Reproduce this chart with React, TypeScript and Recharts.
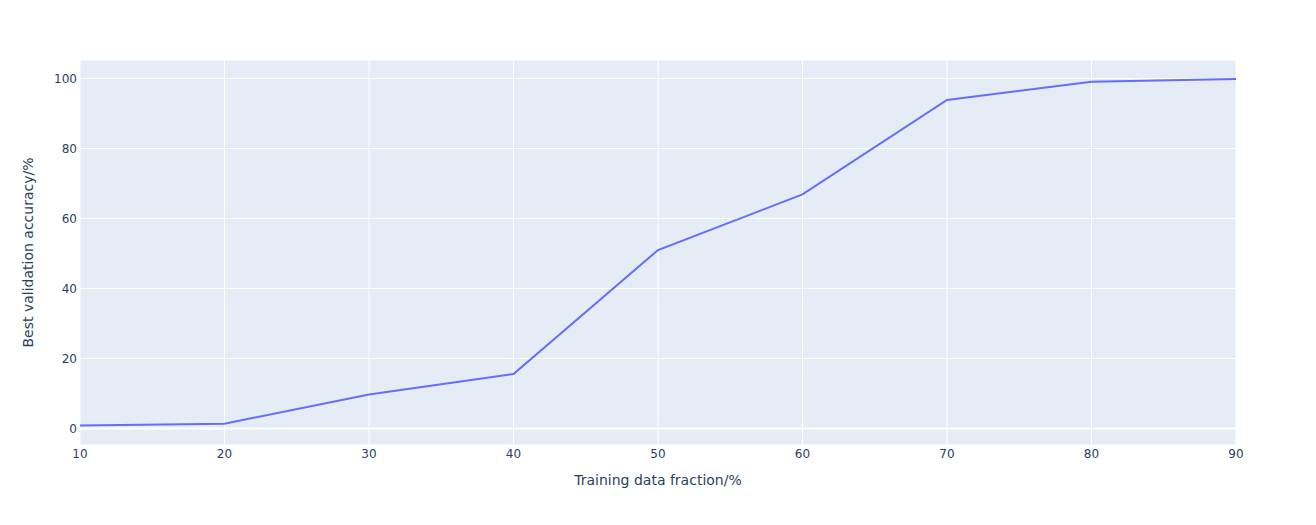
import { CartesianGrid, Line, LineChart, ReferenceLine, XAxis, YAxis } from "recharts";

const fractions = [10, 20, 30, 40, 50, 60, 70, 80, 90];
const accuracy = [0.9, 1.4, 9.7, 15.6, 51.0, 66.9, 93.9, 99.1, 99.9];
const xTicks = [10, 20, 30, 40, 50, 60, 70, 80, 90];
const yTicks = [0, 20, 40, 60, 80, 100];

const data = fractions.map((f, i) => ({ f, acc: accuracy[i] }));

const font = '"DejaVu Sans", verdana, arial, sans-serif';
const ink = "#2a3f5f";

export default function App() {
  return (
    <div style={{ position: "absolute", left: 0, top: 0, background: "#fff" }}>
      <LineChart
        width={1316}
        height={525}
        data={data}
        margin={{ top: 60, right: 80, bottom: 0, left: 0 }}
      >
        <CartesianGrid fill="#E5ECF6" stroke="#fff" strokeWidth={1} fillOpacity={1} />
        <XAxis
          dataKey="f"
          type="number"
          domain={[10, 90]}
          ticks={xTicks}
          height={80}
          axisLine={false}
          tickLine={false}
          tickSize={0}
          tickMargin={4}
          tick={{ fill: ink, fontSize: 12, fontFamily: font }}
          label={{
            content: ({ viewBox }: any) => (
              <text
                x={viewBox.x + viewBox.width / 2}
                y={viewBox.y + 40}
                textAnchor="middle"
                fill={ink}
                fontSize={14}
                fontFamily={font}
              >
                Training data fraction/%
              </text>
            ),
          }}
        />
        <YAxis
          type="number"
          domain={[-4.7, 105.3]}
          ticks={yTicks}
          width={80}
          axisLine={false}
          tickLine={false}
          tickSize={0}
          tickMargin={3}
          tick={{ fill: ink, fontSize: 12, fontFamily: font }}
          label={{
            content: ({ viewBox }: any) => {
              const cx = viewBox.x + 28;
              const cy = viewBox.y + viewBox.height / 2;
              return (
                <text
                  x={cx}
                  y={cy}
                  transform={`rotate(-90 ${cx} ${cy})`}
                  textAnchor="middle"
                  dominantBaseline="central"
                  fill={ink}
                  fontSize={14}
                  fontFamily={font}
                >
                  Best validation accuracy/%
                </text>
              );
            },
          }}
        />
        <ReferenceLine y={0} stroke="#fff" strokeWidth={2} />
        <Line
          type="linear"
          dataKey="acc"
          stroke="#636efa"
          strokeWidth={2}
          dot={false}
          activeDot={false}
          isAnimationActive={false}
        />
      </LineChart>
    </div>
  );
}
